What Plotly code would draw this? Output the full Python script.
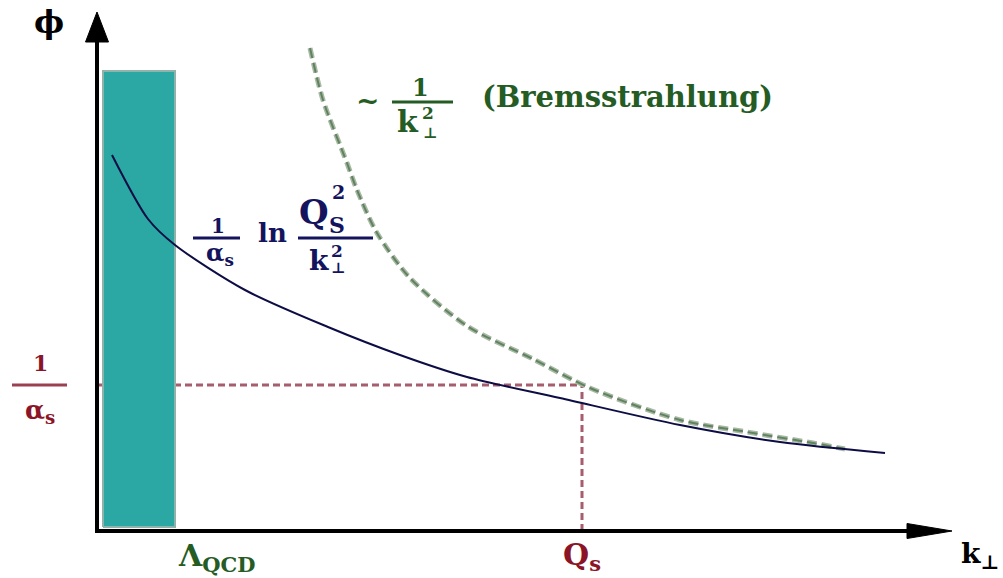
import plotly.graph_objects as go

# ---- data (arbitrary schematic units: k_perp horizontal, phi vertical) ----
k_solid = [0.15, 0.51, 0.78, 1.48, 2.31, 3.03, 3.70, 4.63, 5.83, 6.83, 7.88]
phi_solid = [3.76, 3.12, 2.86, 2.41, 2.04, 1.76, 1.54, 1.33, 1.06, 0.89, 0.78]

k_brems = [2.13, 2.26, 2.50, 2.60, 2.80, 3.13, 3.70, 4.36, 4.93, 5.83, 6.50, 7.16, 7.48]
phi_brems = [4.83, 4.31, 3.68, 3.41, 2.98, 2.53, 2.05, 1.72, 1.43, 1.11, 0.99, 0.88, 0.82]

LAMBDA_QCD = 0.78
Q_S = 4.85
INV_ALPHA_S = 1.46
band_k = [0.06, LAMBDA_QCD]
band_phi = [0.04, 4.60]

X_RANGE = [-0.97, 9.06]
Y_RANGE = [-0.47, 5.31]

NAVY = "#14145e"
DRED = "#8b1426"
DGREEN = "#245c24"
SERIF = "DejaVu Serif"

fig = go.Figure()

# reference dashed lines (drawn under the band)
fig.add_trace(go.Scatter(x=[0, Q_S], y=[INV_ALPHA_S, INV_ALPHA_S], mode="lines",
                         line=dict(color="#a65d6d", width=3, dash="7px,4px"), hoverinfo="skip"))
fig.add_trace(go.Scatter(x=[Q_S, Q_S], y=[0, INV_ALPHA_S], mode="lines",
                         line=dict(color="#a65d6d", width=3, dash="7px,4px"), hoverinfo="skip"))

# Lambda_QCD band
fig.add_trace(go.Scatter(x=[band_k[0], band_k[1], band_k[1], band_k[0], band_k[0]],
                         y=[band_phi[0], band_phi[0], band_phi[1], band_phi[1], band_phi[0]],
                         mode="lines", fill="toself", fillcolor="#2ba8a3",
                         line=dict(color="#8fb2aa", width=2), hoverinfo="skip"))

# Bremsstrahlung ~1/k^2 dashed curve
fig.add_trace(go.Scatter(x=k_brems, y=phi_brems, mode="lines",
                         line=dict(color="#a8b8a4", width=5, dash="10px,5px", shape="spline", smoothing=0.8),
                         hoverinfo="skip"))
fig.add_trace(go.Scatter(x=k_brems, y=phi_brems, mode="lines",
                         line=dict(color="#5f835f", width=2, dash="10px,5px", shape="spline", smoothing=0.8),
                         hoverinfo="skip"))

# saturation curve
fig.add_trace(go.Scatter(x=k_solid, y=phi_solid, mode="lines",
                         line=dict(color="#0d0d45", width=2, shape="spline", smoothing=0.8),
                         hoverinfo="skip"))

shapes = []
# axes
shapes.append(dict(type="line", xref="x", yref="y", x0=-0.02, y0=0, x1=8.12, y1=0,
                   line=dict(color="black", width=4)))
shapes.append(dict(type="path", xref="x", yref="y", path="M 8.10,-0.075 L 8.55,0 L 8.10,0.075 Z",
                   fillcolor="black", line=dict(color="black", width=1)))
shapes.append(dict(type="line", xref="x", yref="y", x0=0, y0=-0.02, x1=0, y1=4.92,
                   line=dict(color="black", width=4)))
shapes.append(dict(type="path", xref="x", yref="y", path="M -0.115,4.89 L 0,5.19 L 0.115,4.89 Z",
                   fillcolor="black", line=dict(color="black", width=1)))
# fraction bars
shapes.append(dict(type="line", xref="x", yref="y", x0=-0.85, x1=-0.30, y0=INV_ALPHA_S, y1=INV_ALPHA_S,
                   line=dict(color="#9b4050", width=3)))
shapes.append(dict(type="line", xref="x", yref="y", x0=2.95, x1=3.56, y0=4.29, y1=4.29,
                   line=dict(color=DGREEN, width=3)))
shapes.append(dict(type="line", xref="x", yref="y", x0=0.96, x1=1.43, y0=2.93, y1=2.93,
                   line=dict(color=NAVY, width=3)))
shapes.append(dict(type="line", xref="x", yref="y", x0=2.01, x1=2.76, y0=2.93, y1=2.93,
                   line=dict(color=NAVY, width=3)))


def txt(x, y, s, size, color, bold=True):
    return dict(x=x, y=y, xref="x", yref="y", text=("<b>%s</b>" % s) if bold else s,
                showarrow=False, xanchor="center", yanchor="middle",
                font=dict(family=SERIF, size=size, color=color))


ann = [
    txt(-0.48, 5.09, "ϕ", 32, "black"),
    txt(-0.57, 1.68, "1", 22, DRED),
    txt(-0.57, 1.20, "α<sub>s</sub>", 26, DRED),
    txt(LAMBDA_QCD + 0.42, -0.26, "Λ<sub>QCD</sub>", 30, DGREEN),
    txt(Q_S, -0.25, "Q<sub>s</sub>", 30, DRED),
    txt(8.83, -0.24, "k<sub>⊥</sub>", 28, "black"),
    # ~ 1/k^2 (Bremsstrahlung)
    txt(2.70, 4.31, "~", 28, DGREEN),
    txt(3.23, 4.44, "1", 24, DGREEN),
    txt(3.11, 4.10, "k", 30, DGREEN),
    txt(3.31, 4.18, "2", 17, DGREEN),
    txt(3.33, 3.98, "⊥", 15, DGREEN),
    txt(5.30, 4.34, "(Bremsstrahlung)", 29, DGREEN),
    # 1/alpha_s ln Q_s^2/k^2
    txt(1.21, 3.05, "1", 20, NAVY),
    txt(1.23, 2.77, "α<sub>s</sub>", 24, NAVY),
    txt(1.75, 2.98, "ln", 26, NAVY),
    txt(2.17, 3.19, "Q", 34, NAVY),
    txt(2.41, 3.39, "2", 19, NAVY),
    txt(2.40, 3.06, "S", 22, NAVY),
    txt(2.22, 2.71, "k", 28, NAVY),
    txt(2.40, 2.80, "2", 17, NAVY),
    txt(2.41, 2.63, "⊥", 15, NAVY),
]

fig.update_layout(
    width=1003, height=578,
    margin=dict(l=0, r=0, t=0, b=0),
    paper_bgcolor="white", plot_bgcolor="white",
    showlegend=False,
    xaxis=dict(range=X_RANGE, visible=False, fixedrange=True),
    yaxis=dict(range=Y_RANGE, visible=False, fixedrange=True),
    shapes=shapes,
    annotations=ann,
)

fig.write_html("out.html")
